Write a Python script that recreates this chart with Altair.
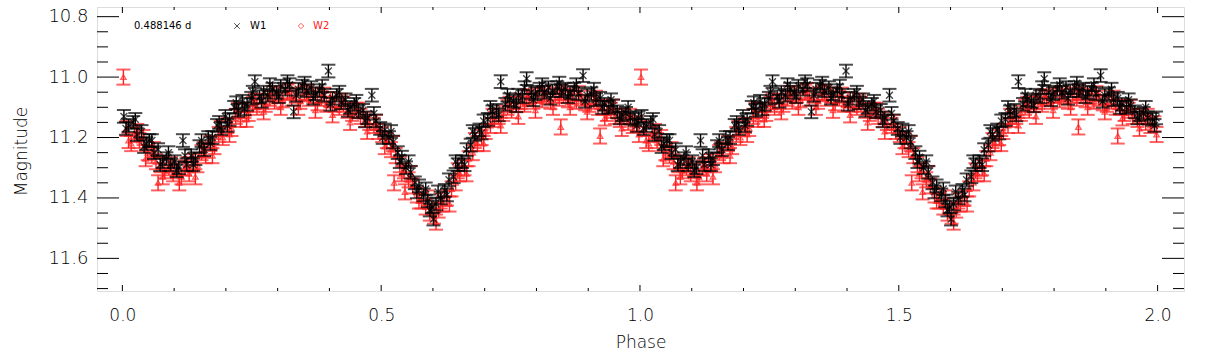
import altair as alt
import pandas as pd

# ---------------- data ----------------
PERIOD_LABEL = "0.488146 d"
SERIES = ["W1", "W2"]
X_TITLE = "Phase"
Y_TITLE = "Magnitude"

W1_PHASE = [
    0.003, 0.012, 0.021, 0.028, 0.037, 0.046, 0.052, 0.061, 0.069, 0.078,
    0.085, 0.093, 0.101, 0.109, 0.117, 0.124, 0.133, 0.141, 0.149, 0.158,
    0.166, 0.174, 0.183, 0.191, 0.199, 0.207, 0.216, 0.224, 0.232, 0.241,
    0.249, 0.256, 0.265, 0.273, 0.281, 0.290, 0.298, 0.306, 0.315, 0.323,
    0.331, 0.340, 0.348, 0.356, 0.365, 0.373, 0.381, 0.390, 0.398, 0.406,
    0.414, 0.423, 0.431, 0.440, 0.448, 0.456, 0.465, 0.473, 0.482, 0.490,
    0.498, 0.507, 0.515, 0.523, 0.532, 0.540, 0.548, 0.557, 0.565, 0.573,
    0.582, 0.590, 0.598, 0.601, 0.606, 0.615, 0.623, 0.631, 0.640, 0.648,
    0.656, 0.665, 0.673, 0.681, 0.690, 0.698, 0.706, 0.715, 0.723, 0.731,
    0.740, 0.748, 0.756, 0.765, 0.773, 0.781, 0.790, 0.798, 0.806, 0.815,
    0.823, 0.831, 0.840, 0.848, 0.856, 0.865, 0.873, 0.881, 0.890, 0.898,
    0.906, 0.915, 0.923, 0.931, 0.940, 0.948, 0.956, 0.965, 0.973, 0.981,
    0.990, 0.997,
    0.007, 0.025, 0.042, 0.057, 0.073, 0.089, 0.105, 0.121, 0.137, 0.153,
    0.170, 0.187, 0.203, 0.220, 0.236, 0.252, 0.269, 0.285, 0.302, 0.319,
    0.336, 0.352, 0.369, 0.386, 0.402, 0.419, 0.436, 0.452, 0.469, 0.486,
    0.503, 0.519, 0.536, 0.553, 0.569, 0.586, 0.594, 0.610, 0.627, 0.644,
    0.661, 0.677, 0.694, 0.711, 0.727, 0.744, 0.761, 0.777, 0.794, 0.811,
    0.827, 0.844, 0.861, 0.877, 0.894, 0.911, 0.927, 0.944, 0.961, 0.977,
    0.994,
]
W1_MAG = [
    11.13, 11.16, 11.15, 11.19, 11.18, 11.22, 11.21, 11.25, 11.24, 11.28,
    11.27, 11.29, 11.28, 11.30, 11.21, 11.29, 11.26, 11.27, 11.23, 11.24,
    11.20, 11.20, 11.16, 11.17, 11.13, 11.14, 11.10, 11.11, 11.08, 11.09,
    11.07, 11.015, 11.065, 11.05, 11.06, 11.04, 11.05, 11.03, 11.04, 11.025,
    11.115, 11.04, 11.03, 11.045, 11.035, 11.055, 11.045, 11.06, 10.98, 11.07,
    11.06, 11.085, 11.075, 11.10, 11.09, 11.115, 11.11, 11.135, 11.06, 11.145,
    11.17, 11.175, 11.20, 11.215, 11.25, 11.265, 11.30, 11.315, 11.35, 11.36,
    11.39, 11.41, 11.43, 11.47, 11.42, 11.40, 11.375, 11.34, 11.33, 11.29,
    11.28, 11.24, 11.225, 11.19, 11.175, 11.145, 11.14, 11.115, 11.11, 11.015,
    11.09, 11.075, 11.08, 11.06, 11.065, 11.005, 11.05, 11.055, 11.04, 11.05,
    11.035, 11.045, 11.035, 11.045, 11.04, 11.05, 11.04, 11.055, 10.995, 11.06,
    11.055, 11.075, 11.07, 11.09, 11.10, 11.095, 11.115, 11.125, 11.12, 11.135,
    11.14, 11.135,
    11.17, 11.14, 11.23, 11.21, 11.29, 11.25, 11.31, 11.26, 11.29, 11.21,
    11.22, 11.15, 11.16, 11.085, 11.105, 11.05, 11.08, 11.025, 11.065, 11.015,
    11.06, 11.02, 11.07, 11.03, 11.09, 11.05, 11.11, 11.08, 11.145, 11.12,
    11.20, 11.18, 11.28, 11.28, 11.38, 11.37, 11.44, 11.38, 11.39, 11.28,
    11.29, 11.18, 11.185, 11.10, 11.125, 11.06, 11.095, 11.035, 11.075, 11.025,
    11.07, 11.02, 11.065, 11.025, 11.08, 11.04, 11.10, 11.075, 11.135, 11.10,
    11.16,
]
W1_ERR = 0.021

W2_PHASE = [
    0.002, 0.008, 0.017, 0.024, 0.033, 0.041, 0.049, 0.057, 0.065, 0.069,
    0.074, 0.082, 0.090, 0.098, 0.106, 0.114, 0.121, 0.129, 0.137, 0.145,
    0.153, 0.161, 0.170, 0.178, 0.186, 0.194, 0.203, 0.211, 0.219, 0.228,
    0.236, 0.244, 0.252, 0.260, 0.269, 0.277, 0.285, 0.294, 0.302, 0.310,
    0.319, 0.327, 0.335, 0.344, 0.352, 0.360, 0.369, 0.377, 0.385, 0.394,
    0.402, 0.410, 0.419, 0.427, 0.435, 0.444, 0.452, 0.460, 0.469, 0.477,
    0.486, 0.494, 0.502, 0.511, 0.519, 0.525, 0.528, 0.536, 0.544, 0.546,
    0.553, 0.561, 0.569, 0.578, 0.586, 0.594, 0.602, 0.611, 0.619, 0.627,
    0.636, 0.644, 0.652, 0.661, 0.669, 0.677, 0.686, 0.694, 0.702, 0.711,
    0.719, 0.727, 0.736, 0.744, 0.752, 0.761, 0.769, 0.777, 0.786, 0.794,
    0.802, 0.811, 0.819, 0.827, 0.836, 0.844, 0.847, 0.852, 0.861, 0.869,
    0.877, 0.886, 0.894, 0.902, 0.911, 0.919, 0.923, 0.928, 0.936, 0.944,
    0.952, 0.961, 0.969, 0.977, 0.986, 0.994,
    0.012, 0.029, 0.045, 0.061, 0.078, 0.094, 0.110, 0.126, 0.141, 0.157,
    0.174, 0.190, 0.207, 0.223, 0.240, 0.256, 0.273, 0.290, 0.306, 0.323,
    0.340, 0.356, 0.373, 0.390, 0.406, 0.423, 0.440, 0.456, 0.473, 0.490,
    0.507, 0.523, 0.540, 0.557, 0.573, 0.590, 0.606, 0.615, 0.632, 0.648,
    0.665, 0.681, 0.698, 0.715, 0.731, 0.748, 0.765, 0.781, 0.798, 0.815,
    0.832, 0.848, 0.865, 0.882, 0.898, 0.915, 0.932, 0.948, 0.965, 0.981,
    0.998,
]
W2_MAG = [
    11.00, 11.17, 11.22, 11.19, 11.21, 11.20, 11.25, 11.26, 11.28, 11.35,
    11.29, 11.31, 11.30, 11.32, 11.31, 11.33, 11.30, 11.32, 11.28, 11.29,
    11.25, 11.26, 11.22, 11.23, 11.19, 11.20, 11.16, 11.17, 11.13, 11.14,
    11.11, 11.12, 11.09, 11.10, 11.08, 11.09, 11.07, 11.08, 11.06, 11.075,
    11.05, 11.07, 11.06, 11.08, 11.055, 11.07, 11.06, 11.085, 11.07, 11.09,
    11.075, 11.09, 11.10, 11.09, 11.11, 11.12, 11.11, 11.13, 11.14, 11.15,
    11.16, 11.18, 11.19, 11.21, 11.24, 11.35, 11.26, 11.29, 11.31, 11.38,
    11.34, 11.36, 11.39, 11.41, 11.43, 11.45, 11.46, 11.44, 11.42, 11.40,
    11.37, 11.35, 11.32, 11.30, 11.27, 11.25, 11.22, 11.20, 11.18, 11.16,
    11.14, 11.13, 11.12, 11.10, 11.11, 11.09, 11.08, 11.09, 11.07, 11.08,
    11.06, 11.075, 11.065, 11.08, 11.06, 11.07, 11.165, 11.06, 11.075, 11.065,
    11.08, 11.07, 11.085, 11.09, 11.08, 11.10, 11.195, 11.10, 11.12, 11.11,
    11.13, 11.14, 11.13, 11.15, 11.16, 11.155,
    11.21, 11.18, 11.27, 11.24, 11.33, 11.29, 11.35, 11.29, 11.33, 11.24,
    11.26, 11.17, 11.19, 11.11, 11.14, 11.08, 11.115, 11.055, 11.10, 11.045,
    11.10, 11.05, 11.11, 11.06, 11.125, 11.08, 11.15, 11.11, 11.18, 11.15,
    11.23, 11.22, 11.32, 11.32, 11.41, 11.40, 11.48, 11.41, 11.42, 11.31,
    11.32, 11.21, 11.22, 11.13, 11.16, 11.09, 11.13, 11.065, 11.11, 11.055,
    11.10, 11.05, 11.10, 11.055, 11.115, 11.07, 11.135, 11.10, 11.17, 11.13,
    11.19,
]
W2_ERR = 0.025

CYCLES = [0, 1]

X_MAJOR = [0.0, 0.5, 1.0, 1.5, 2.0]
X_MINOR = [0.1, 0.2, 0.3, 0.4, 0.6, 0.7, 0.8, 0.9, 1.1, 1.2, 1.3, 1.4,
           1.6, 1.7, 1.8, 1.9]
Y_MAJOR = [10.8, 11.0, 11.2, 11.4, 11.6]
Y_MINOR = [10.85, 10.9, 10.95, 11.05, 11.1, 11.15, 11.25, 11.3, 11.35,
           11.45, 11.5, 11.55, 11.65, 11.7]

X_DOMAIN = [-0.049, 2.051]
Y_DOMAIN = [10.768, 11.708]

# ---------------- layout / style ----------------
W, H = 1087, 284
RED = "#ff2020"
FONT = "DejaVu Sans"
XMARK = "M-1,-1L1,1M1,-1L-1,1"


def band(phases, mags, err):
    rows = []
    for c in CYCLES:
        for p, m in zip(phases, mags):
            rows.append({"phase": p + c, "mag": m, "lo": m - err, "hi": m + err})
    return pd.DataFrame(rows)


d1 = band(W1_PHASE, W1_MAG, W1_ERR)
d2 = band(W2_PHASE, W2_MAG, W2_ERR)

XS = alt.Scale(domain=X_DOMAIN, nice=False, zero=False)
YS = alt.Scale(domain=Y_DOMAIN, reverse=True, nice=False, zero=False)

X_AXIS = alt.Axis(
    values=X_MAJOR, format=".1f", grid=False, domain=False, ticks=False,
    tickSize=0, labelPadding=16, labelFontSize=17, labelFont=FONT,
    labelFontWeight=200, labelColor="#000000", title=X_TITLE,
    titleFont=FONT, titleFontSize=17, titleFontWeight=200, titleColor="#000000",
    titleBaseline="middle", titleY=51, labelFlush=False,
)
Y_AXIS = alt.Axis(
    values=Y_MAJOR, format=".1f", grid=False, domain=False, ticks=False,
    tickSize=0, labelPadding=9, labelFontSize=18, labelFont=FONT,
    labelFontWeight=200, labelColor="#000000", title=Y_TITLE,
    titleFont=FONT, titleFontSize=17, titleFontWeight=200, titleColor="#000000",
    titleBaseline="middle", titleX=-76, titleY=144, titleAngle=270,
    labelFlush=False,
)


def X(f):
    return alt.X(f, scale=XS, axis=X_AXIS)


def Y(f):
    return alt.Y(f, scale=YS, axis=Y_AXIS)


def errbars(df, color):
    base = alt.Chart(df)
    stem = base.mark_rule(color=color, strokeWidth=1.4).encode(
        x=X("phase:Q"), y=Y("lo:Q"), y2="hi:Q")
    cap_lo = base.mark_tick(color=color, orient="horizontal", size=14, thickness=2).encode(
        x=X("phase:Q"), y=Y("lo:Q"))
    cap_hi = base.mark_tick(color=color, orient="horizontal", size=14, thickness=2).encode(
        x=X("phase:Q"), y=Y("hi:Q"))
    return [stem, cap_lo, cap_hi]


pts2 = alt.Chart(d2).mark_point(shape="triangle-up", size=30, filled=False,
                                color=RED, strokeWidth=1.3).encode(
    x=X("phase:Q"), y=Y("mag:Q"))
pts1 = alt.Chart(d1).mark_point(shape=XMARK, size=48, filled=False,
                                color="black", strokeWidth=1.4).encode(
    x=X("phase:Q"), y=Y("mag:Q"))


def yticks(vals, x0, x1):
    return alt.Chart(pd.DataFrame({"v": vals})).mark_rule(color="black", strokeWidth=1).encode(
        y=Y("v:Q"), x=alt.value(x0), x2=alt.value(x1))


def xticks(vals, y0, y1):
    return alt.Chart(pd.DataFrame({"v": vals})).mark_rule(color="black", strokeWidth=1).encode(
        x=X("v:Q"), y=alt.value(y0), y2=alt.value(y1))


ticks = [
    yticks(Y_MAJOR, 0, 22), yticks(Y_MINOR, 0, 11),
    yticks(Y_MAJOR, W - 22, W), yticks(Y_MINOR, W - 11, W),
    xticks(X_MAJOR, H - 6, H), xticks(X_MINOR, H - 3, H),
    xticks(X_MAJOR, 0, 6), xticks(X_MINOR, 0, 3),
]


def legend_text(txt, x, color):
    return alt.Chart(pd.DataFrame({"t": [txt]})).mark_text(
        align="left", baseline="middle", fontSize=10, font=FONT, color=color).encode(
        text="t:N", x=alt.value(x), y=alt.value(19))


def legend_symbol(txt, shape, x, color):
    return alt.Chart(pd.DataFrame({"t": [txt]})).mark_point(
        shape=shape, size=30, filled=False, color=color, strokeWidth=1).encode(
        x=alt.value(x), y=alt.value(19))


legend = [
    legend_text(PERIOD_LABEL, 37, "black"),
    legend_symbol(SERIES[0], XMARK, 140, "black"),
    legend_text(SERIES[0], 153, "black"),
    legend_symbol(SERIES[1], "diamond", 204, RED),
    legend_text(SERIES[1], 216, RED),
]

layers = errbars(d2, RED) + [pts2] + errbars(d1, "black") + [pts1] + ticks + legend

chart = alt.layer(*layers).properties(
    width=W, height=H,
    padding={"left": 97, "top": 7, "right": 1208 - 97 - W, "bottom": 354 - 7 - H},
    autosize=alt.AutoSizeParams(type="none"),
).configure_view(stroke="black", strokeWidth=1).configure(background="white")

chart.save("out.html", embed_options={"renderer": "svg", "actions": False})
